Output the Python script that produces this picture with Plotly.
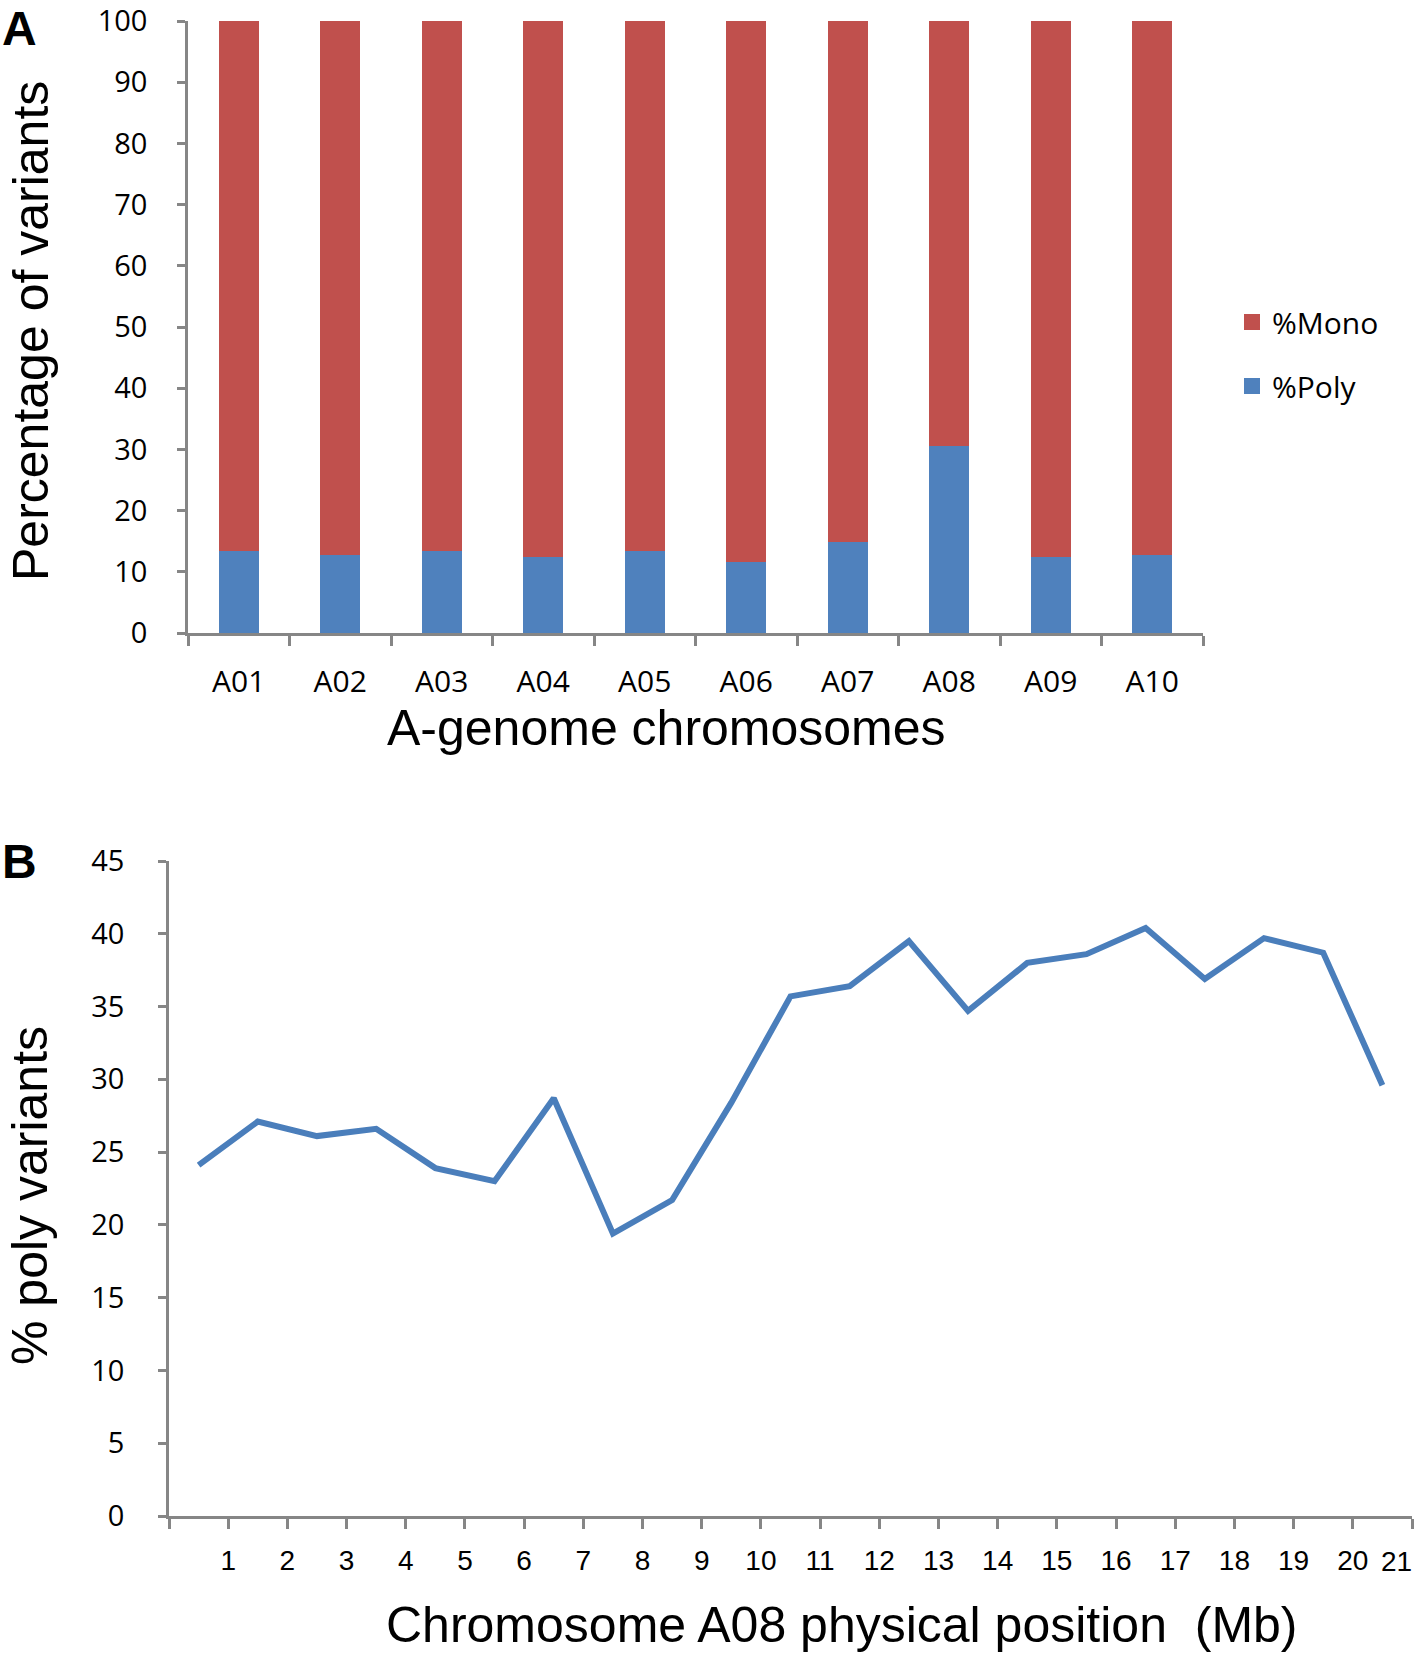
import plotly.graph_objects as go

# ---------------- Data ----------------
chromosomes = ["A01", "A02", "A03", "A04", "A05", "A06", "A07", "A08", "A09", "A10"]
pct_poly = [13.4, 12.8, 13.4, 12.4, 13.4, 11.6, 14.8, 30.5, 12.4, 12.8]
pct_mono = [86.6, 87.2, 86.6, 87.6, 86.6, 88.4, 85.2, 69.5, 87.6, 87.2]

a08_bin_mid_mb = [0.5, 1.5, 2.5, 3.5, 4.5, 5.5, 6.5, 7.5, 8.5, 9.5, 10.5,
                  11.5, 12.5, 13.5, 14.5, 15.5, 16.5, 17.5, 18.5, 19.5, 20.5]
a08_pct_poly = [24.1, 27.1, 26.1, 26.6, 23.9, 23.0, 28.7, 19.4, 21.7, 28.4, 35.7,
                36.4, 39.5, 34.7, 38.0, 38.6, 40.4, 36.9, 39.7, 38.7, 29.6]

b_tick_vals = [0, 1, 2, 3, 4, 5, 6, 7, 8, 9, 10, 11, 12, 13, 14, 15, 16, 17, 18, 19, 20, 21]
b_tick_text = ["", "1", "2", "3", "4", "5", "6", "7", "8", "9", "10", "11", "12",
               "13", "14", "15", "16", "17", "18", "19", "20", "21"]

# ---------------- Styles ----------------
W, H = 1418, 1654
RED = "#C0504D"
BLUE = "#4F81BD"
LINE_BLUE = "#4A7EBB"
AXIS = "#868686"
CAL = "Open Sans, Lato, sans-serif"
ARIAL = "Liberation Sans, Arial, sans-serif"


def px_x(v):
    return v / W


def px_y(v):
    return 1 - v / H


fig = go.Figure()

fig.add_trace(go.Bar(
    x=chromosomes, y=pct_poly, name="%Poly", marker=dict(color=BLUE, line=dict(width=0)),
    xaxis="x", yaxis="y", showlegend=False,
))
fig.add_trace(go.Bar(
    x=chromosomes, y=pct_mono, name="%Mono", marker=dict(color=RED, line=dict(width=0)),
    xaxis="x", yaxis="y", showlegend=False,
))
# legend entries (square swatches)
for nm, col, rank in [("%Mono", RED, 1), ("%Poly", BLUE, 2)]:
    fig.add_trace(go.Scatter(
        x=[None], y=[None], mode="markers", name=nm, legendrank=rank, legendgroup=nm,
        marker=dict(symbol="square", size=16, color=col), xaxis="x", yaxis="y",
    ))
fig.add_trace(go.Scatter(
    x=a08_bin_mid_mb, y=a08_pct_poly, mode="lines", showlegend=False,
    line=dict(color=LINE_BLUE, width=6), xaxis="x2", yaxis="y2",
))

common_axis = dict(showline=True, linecolor=AXIS, linewidth=2.5, ticks="outside",
                   tickcolor=AXIS, tickwidth=2.5, showgrid=False, zeroline=False,
                   automargin=False, ticklabeloverflow="allow")

# last B tick label is drawn right-aligned to its tick so it stays on the page
last_val, last_txt = b_tick_vals[-1], b_tick_text[-1]
b_text_axis = b_tick_text[:-1] + [""]

fig.update_layout(
    width=W, height=H,
    margin=dict(l=0, r=0, t=0, b=0),
    paper_bgcolor="white", plot_bgcolor="white",
    barmode="stack", bargap=0.61,
    xaxis=dict(domain=[px_x(188), px_x(1203)], anchor="y", type="category",
               range=[-0.5, 9.5], tickson="boundaries", ticklen=10,
               ticklabelstandoff=20, tickfont=dict(family=CAL, size=30, color="black"),
               **common_axis),
    yaxis=dict(domain=[px_y(633), px_y(21)], anchor="x", range=[0, 100], dtick=10,
               ticklen=8, ticklabelstandoff=24, tickfont=dict(family=CAL, size=29, color="black"),
               **common_axis),
    xaxis2=dict(domain=[px_x(169), px_x(1412)], anchor="y2", range=[0, 21],
                tickvals=b_tick_vals, ticktext=b_text_axis, ticklen=10,
                ticklabelstandoff=8, tickfont=dict(family=ARIAL, size=28, color="black"),
                **common_axis),
    yaxis2=dict(domain=[px_y(1516), px_y(861)], anchor="x2", range=[0, 45], dtick=5,
                ticklen=8, ticklabelstandoff=28, tickfont=dict(family=CAL, size=29, color="black"),
                **common_axis),
    legend=dict(x=px_x(1232), y=px_y(354), xanchor="left", yanchor="middle",
                traceorder="grouped", tracegroupgap=22, itemsizing="trace",
                font=dict(family=CAL, size=30, color="black"),
                bgcolor="rgba(0,0,0,0)"),
    showlegend=True,
)

annotations = [
    dict(text="<b>A</b>", x=px_x(19), y=1, yanchor="top",
         font=dict(family=ARIAL, size=48, color="black")),
    dict(text="<b>B</b>", x=px_x(19), y=px_y(861), font=dict(family=ARIAL, size=48, color="black")),
    dict(text="A-genome chromosomes", x=px_x(666), y=px_y(728),
         font=dict(family=ARIAL, size=50, color="black")),
    dict(text="Percentage of variants", x=px_x(31), y=px_y(331), textangle=-90,
         font=dict(family=ARIAL, size=50, color="black")),
    dict(text="Chromosome A08 physical position \u00a0(Mb)", x=px_x(842), y=px_y(1625),
         font=dict(family=ARIAL, size=50, color="black")),
    dict(text="% poly variants", x=px_x(30), y=px_y(1196), textangle=-90,
         font=dict(family=ARIAL, size=50, color="black")),
]
for a in annotations:
    a.update(xref="paper", yref="paper", showarrow=False, xanchor="center")
    a.setdefault("yanchor", "middle")
annotations.append(dict(
    text=last_txt, x=last_val, y=0, xref="x2", yref="y2", xanchor="right", yanchor="top",
    yshift=-28, xshift=2, showarrow=False, font=dict(family=ARIAL, size=28, color="black"),
))
fig.update_layout(annotations=annotations)

fig.write_html("out.html", config={"displayModeBar": False},
               post_script="document.body.style.margin='0';")
